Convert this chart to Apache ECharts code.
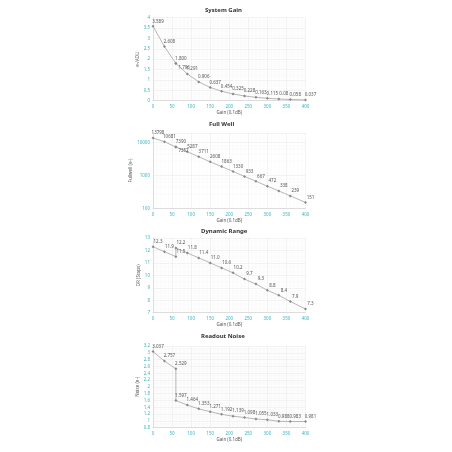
<!DOCTYPE html>
<html>
<head>
<meta charset="utf-8">
<script src="https://cdn.jsdelivr.net/npm/echarts@6/dist/echarts.min.js"></script>
<style>
html,body{margin:0;padding:0;background:#fff;}
#c{width:452px;height:452px;}
</style>
</head>
<body>
<div id="c"></div>
<script>
// ---- data ----
const gainX = [0, 30, 60, 60, 90, 120, 150, 180, 210, 240, 270, 300, 330, 360, 400];
const systemGain = [3.589, 2.608, 1.800, 1.796, 1.291, 0.906, 0.637, 0.454, 0.325, 0.228, 0.163, 0.115, 0.08, 0.058, 0.037];
const fullWell = [13798, 10681, 7390, 7357, 5287, 3711, 2608, 1863, 1330, 933, 667, 472, 338, 239, 151];
const dynamicRange = [12.3, 11.9, 11.5, 12.2, 11.8, 11.4, 11.0, 10.6, 10.2, 9.7, 9.3, 8.8, 8.4, 7.9, 7.3];
const readNoise = [3.037, 2.757, 2.529, 1.597, 1.464, 1.353, 1.271, 1.192, 1.139, 1.098, 1.055, 1.033, 0.988, 0.983, 0.981];
const titles = ['System Gain', 'Full Well', 'Dynamic Range', 'Readout Noise'];
const yNames = ['e-/ADU', 'Fullwell (e-)', 'DR (Stops)', 'Noise (e-)'];
const xName = 'Gain (0.1dB)';
const labelDecimals = [3, 0, 1, 3];

const FONT = 'Noto Sans';
const TEAL = '#3db3bf';
const grids = [
  {top: 17.7, height: 83},
  {top: 132.8, height: 75.5},
  {top: 238, height: 74.7},
  {top: 346, height: 81.7}
];
const titleLeft = [205, 209, 201, 201];
const titleTop = [7, 121, 228, 333];
const yCfg = [
  {type: 'value', min: 0, max: 4, interval: 0.5},
  {type: 'log', min: 100, max: 20000, logBase: 10},
  {type: 'value', min: 7, max: 13, interval: 1},
  {type: 'value', min: 0.8, max: 3.2, interval: 0.2}
];
const seriesData = [systemGain, fullWell, dynamicRange, readNoise];

const option = {
  animation: false,
  backgroundColor: '#fff',
  textStyle: {fontFamily: FONT},
  title: titles.map((t, i) => ({
    text: t, left: titleLeft[i], top: titleTop[i], padding: 0,
    textStyle: {fontSize: 6, fontWeight: 'bold', color: '#333', fontFamily: FONT}
  })),
  grid: grids.map(g => ({left: 153, right: 146.5, top: g.top, height: g.height})),
  xAxis: grids.map((g, i) => ({
    type: 'value', gridIndex: i, min: 0, max: 400, interval: 50,
    name: xName, nameLocation: 'middle', nameGap: 9,
    nameTextStyle: {fontSize: 4.5, color: '#555', fontFamily: FONT},
    axisLabel: {fontSize: 4.5, color: TEAL, margin: 4, fontFamily: FONT},
    axisTick: {show: false},
    axisLine: {lineStyle: {color: '#cfcfcf', width: 0.6}},
    splitLine: {show: true, lineStyle: {color: '#e6e6e6', width: 0.5}},
    minorSplitLine: {show: true, lineStyle: {color: '#f5f5f5', width: 0.4}}
  })),
  yAxis: yCfg.map((c, i) => Object.assign({
    gridIndex: i,
    name: yNames[i], nameLocation: 'middle', nameGap: 9, nameRotate: 90,
    nameTextStyle: {fontSize: 4.5, color: '#555', fontFamily: FONT},
    axisLabel: {fontSize: 4.5, color: TEAL, margin: 3, fontFamily: FONT, showMaxLabel: i !== 1,
      formatter: v => String(Math.round(v * 1000) / 1000)},
    axisTick: {show: false},
    axisLine: {show: true, lineStyle: {color: '#cfcfcf', width: 0.6}},
    splitLine: {show: true, lineStyle: {color: '#e6e6e6', width: 0.5}},
    minorSplitLine: {show: true, lineStyle: {color: '#f5f5f5', width: 0.4}}
  }, c)),
  series: seriesData.map((vals, i) => ({
    type: 'line', xAxisIndex: i, yAxisIndex: i,
    symbol: 'diamond', symbolSize: 3,
    itemStyle: {color: '#8a8a8a'},
    lineStyle: {color: '#a5a5a5', width: 0.8},
    label: {show: true, position: 'top', distance: 1, offset: [5, 0], fontSize: 4.5, color: '#555', fontFamily: FONT,
      formatter: p => {
        const v = p.value[1];
        if (i === 0 && v === 0.08) return '0.08';
        return v.toFixed(labelDecimals[i]);
      }},
    data: gainX.map((x, k) => {
      const d = {value: [x, vals[k]]};
      if (k === 3 && (i === 0 || i === 1)) {
        d.label = {position: 'right', offset: [0, 4]};
      }
      return d;
    })
  }))
};
const chart = echarts.init(document.getElementById('c'), null, {renderer: 'canvas'});
chart.setOption(option);
</script>
</body>
</html>
